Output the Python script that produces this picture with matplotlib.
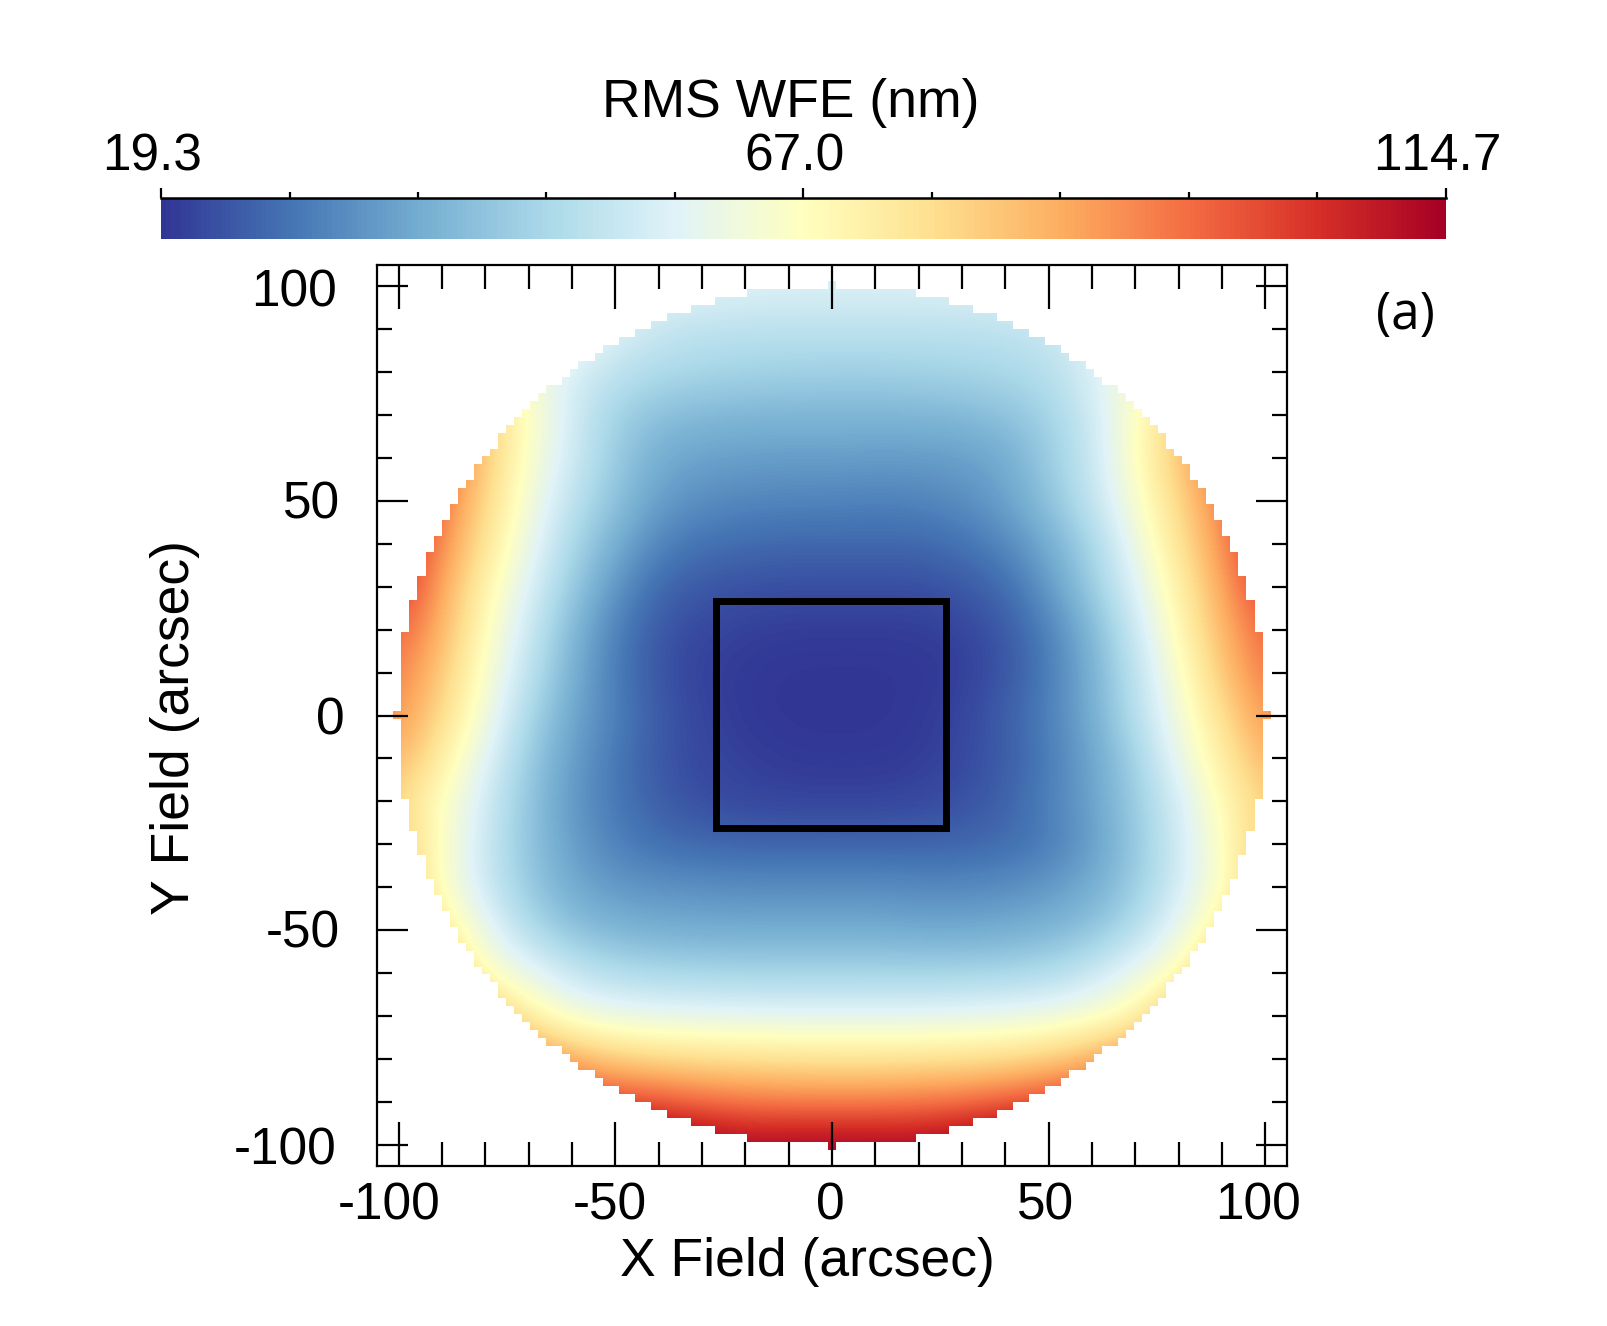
import numpy as np
import matplotlib
matplotlib.use('Agg')
import matplotlib.pyplot as plt
from matplotlib.patches import Rectangle
from matplotlib.transforms import ScaledTranslation

plt.rcParams['font.family'] = ['Liberation Sans', 'DejaVu Sans']
plt.rcParams['text.kerning_factor'] = 6

# RMS wavefront error in nm, sampled every 10 arcsec, top row is y = +100
field_x = np.arange(-100, 101, 10)
field_y = np.arange(100, -101, -10)
wfe = np.array([
    [85, 80, 74, 68, 63, 60, 58.5, 58, 57.5, 57, 57, 57, 57, 57.5, 58, 59, 61, 64, 68, 75, 85],
    [95, 88, 80, 72, 64, 57, 53, 51.5, 51, 51, 51, 51, 51, 51, 51.5, 53, 57, 63, 71, 80, 90],
    [90, 80, 71, 63, 56, 51.5, 48.7, 47.5, 46.8, 46.3, 46, 46, 46.5, 47, 48, 50, 56.5, 64, 72, 81, 91],
    [104, 92, 80, 67, 55, 46.5, 42.5, 41, 40.5, 40.3, 40.5, 40.3, 40.5, 41, 43, 46.5, 54, 66, 80, 92, 104],
    [118, 98, 81, 65, 54.5, 45, 38.5, 36.5, 36, 35.7, 35.8, 35.5, 35.5, 36, 38, 45, 53, 66.7, 81, 97, 115],
    [115, 94, 78, 63, 51.5, 43, 36, 33, 32, 31.5, 31.5, 31, 31.5, 33, 36.5, 43, 52, 64, 78, 92, 110],
    [108, 91, 75, 60.5, 48, 39, 31.5, 28.5, 27.5, 27, 27, 27, 27, 28.5, 32, 38.5, 47, 60.7, 75, 90, 108],
    [105, 87, 70.5, 57, 45, 34.5, 27, 24.5, 23.5, 23, 23, 23, 23, 24.5, 27.5, 35, 45, 57, 71, 87, 103],
    [97, 85, 67.5, 54, 41, 31, 24.5, 22, 21, 20.5, 20.5, 20.5, 20.5, 21.5, 24.5, 31, 40.5, 53.5, 68.5, 84, 97],
    [93, 81, 65, 51.5, 39.5, 30, 24, 21, 20, 19.5, 19.4, 19.4, 19.7, 20.5, 24, 30, 39, 51, 65, 81, 94],
    [90, 77.5, 62.5, 48, 37.5, 31, 25, 21.8, 20, 19.4, 19.3, 19.4, 20, 21.8, 25.5, 31, 38.5, 50, 62.5, 76, 90],
    [85, 72, 58, 45, 36, 29.5, 24.5, 22, 21, 20.2, 20, 20, 20.5, 22, 25, 30, 37, 46, 60, 72, 85],
    [78, 66.5, 55, 43.5, 35, 29.5, 25.5, 23, 22, 21.5, 21.5, 21.5, 22, 23.5, 26, 31, 36.5, 45, 55.5, 68, 80],
    [82, 66, 53.5, 43.5, 36, 31, 28, 27, 26.5, 26.5, 26.5, 26.5, 26.5, 26.5, 27.5, 30, 35.5, 44, 54.5, 66, 82],
    [82, 66, 54, 44.5, 38, 35, 34, 33.5, 33, 33, 33, 33, 32.5, 32.5, 33, 35, 38.5, 45, 55, 65.5, 82],
    [92, 73, 60.5, 49, 43, 40, 39, 38.5, 38.5, 38.5, 38.5, 38.5, 38, 38, 38.5, 40, 43, 49.5, 60, 72, 92],
    [110, 85, 66, 60, 53, 49.5, 48, 47.5, 47, 47, 47, 47, 47, 47, 47.5, 49, 53, 60.5, 67, 85, 110],
    [120, 100, 85, 71, 63, 60.5, 59.5, 59, 58.7, 58.5, 58.5, 58.5, 58.5, 59, 60, 61, 64, 69, 85, 100, 120],
    [125, 110, 100, 93, 86, 80, 78, 76.5, 76, 75.5, 75, 75, 75.5, 76, 77, 80, 85, 93, 100, 110, 125],
    [125, 118, 112, 107, 103, 101, 99, 96, 94, 93, 93, 93, 94, 95, 98, 101, 103, 107, 112, 118, 125],
    [125, 125, 125, 125, 125, 125, 120, 117, 114, 114.7, 114.7, 114.7, 114, 117, 120, 125, 125, 125, 125, 125, 125],
])

wfe_min = 19.3
wfe_mid = 67.0
wfe_max = 114.7
cbar_labels = ['19.3', '67.0', '114.7']
major_ticks = [-100, -50, 0, 50, 100]
tick_labels = ['-100', '-50', '0', '50', '100']
minor_ticks = np.arange(-100, 101, 10)

# field stop drawn as a box around the centre
box_left, box_right = -26.8, 26.3
box_bottom, box_top = -26.3, 26.6

# the pupil is sampled on square cells, cells outside the circle are blanked
cell = 100.3 / 54
n_max = 54
W, H = 1608, 1326
DPI = 100


def px_axes(left, top, right, bottom):
    return fig.add_axes([left / W, 1 - bottom / H, (right - left) / W, (bottom - top) / H])


def nudge(label, dx, dy):
    # shift a tick label by a few pixels
    label.set_transform(label.get_transform() + ScaledTranslation(dx / DPI, dy / DPI, fig.dpi_scale_trans))


fig = plt.figure(figsize=(W / DPI, H / DPI), dpi=DPI, facecolor='white')
ax = px_axes(377, 265, 1287, 1166)

im = ax.imshow(wfe, cmap='RdYlBu_r', vmin=wfe_min, vmax=wfe_max, interpolation='bicubic',
               extent=(-105, 105, -105, 105), aspect='auto', zorder=0)

idx = np.arange(-58, 59)
ii, jj = np.meshgrid(idx, idx)
outside = np.zeros(ii.shape + (4,))
outside[..., :3] = 1.0
outside[..., 3] = (ii ** 2 + jj ** 2 > n_max ** 2).astype(float)
edge = 58.5 * cell
ax.imshow(outside, interpolation='nearest', extent=(-edge, edge, -edge, edge), aspect='auto', zorder=1)

ax.add_patch(Rectangle((box_left, box_bottom), box_right - box_left, box_top - box_bottom,
                       fill=False, ec='black', lw=5, joinstyle='miter', zorder=2))

ax.set_xlim(-105, 105)
ax.set_ylim(-105, 105)
ax.set_xticks(major_ticks)
ax.set_yticks(major_ticks)
ax.set_xticklabels(tick_labels, fontsize=37)
ax.set_yticklabels(tick_labels, fontsize=37)
ax.set_xticks(minor_ticks, minor=True)
ax.set_yticks(minor_ticks, minor=True)
ax.tick_params(axis='x', which='major', direction='in', top=True, bottom=True, length=32, width=1.6, pad=11)
ax.tick_params(axis='x', which='minor', direction='in', top=True, bottom=True, length=17, width=1.6)
ax.tick_params(axis='y', which='major', direction='in', left=True, right=True, length=22, width=1.6, pad=29)
ax.tick_params(axis='y', which='minor', direction='in', left=True, right=True, length=11, width=1.6)
for spine in ax.spines.values():
    spine.set_linewidth(1.6)

# labels with a minus sign sit a little left of their tick
for lab, dx in zip(ax.get_xticklabels(), [-10, -6, -2, -3, -7]):
    nudge(lab, dx, 0)
for lab, dx, dy in zip(ax.get_yticklabels(), [0, 3, 8, 3, 0], [-1, 2, 0, 1, -1]):
    nudge(lab, dx, dy)

cax = px_axes(161, 198, 1446, 239)
cbar = fig.colorbar(im, cax=cax, orientation='horizontal')
cbar.outline.set_visible(False)
cax.spines['top'].set_visible(True)
cax.spines['top'].set_linewidth(1.8)
cax.xaxis.set_ticks_position('top')
cax.set_xticks([wfe_min, wfe_mid, wfe_max])
cax.set_xticklabels(cbar_labels, fontsize=37)
cax.set_xticks(np.linspace(wfe_min, wfe_max, 11), minor=True)
cax.tick_params(axis='x', which='major', direction='out', length=7.5, width=1.6, pad=4.5)
cax.tick_params(axis='x', which='minor', direction='out', length=4, width=1.6)
for lab in cax.get_xticklabels():
    nudge(lab, -9, 0)

fig.text(791 / W, 1 - 103 / H, 'RMS WFE (nm)', fontsize=38.5, ha='center', va='center')
fig.text(807 / W, 1 - 1262 / H, 'X Field (arcsec)', fontsize=38.5, ha='center', va='center')
fig.text(175 / W, 1 - 728 / H, 'Y Field (arcsec)', fontsize=38.5, ha='center', va='center', rotation=90)
fig.text(1405 / W, 1 - 315 / H, '(a)', fontsize=37, ha='center', va='center', family=['Open Sans'])

fig.savefig('out.png', dpi=DPI)
